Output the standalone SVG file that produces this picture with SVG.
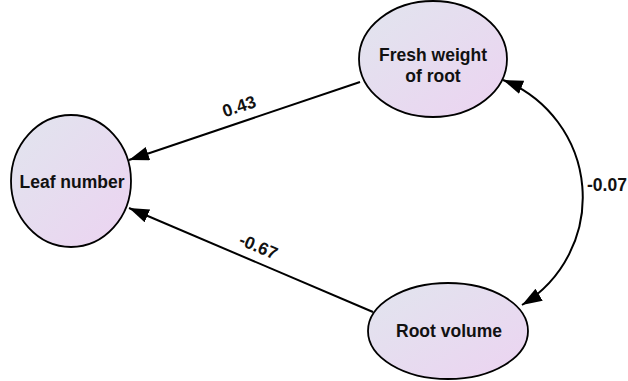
<svg xmlns="http://www.w3.org/2000/svg" width="628" height="381" viewBox="0 0 628 381">
  <defs>
    <linearGradient id="nodeFill" x1="0" y1="0" x2="1" y2="1">
      <stop offset="0" stop-color="#e1e5ee"/>
      <stop offset="1" stop-color="#ecd3f1"/>
    </linearGradient>
    <marker id="arrow" markerUnits="userSpaceOnUse" markerWidth="22" markerHeight="16" refX="20" refY="7" orient="auto-start-reverse">
      <path d="M0,0 L20,7 L0,14 z" fill="#000"/>
    </marker>
  </defs>
  <style>
    .node ellipse { fill: url(#nodeFill); stroke: #000; stroke-width: 1.8; }
    .node text { font-family: "Liberation Sans", Arial, sans-serif; font-weight: bold; font-size: 17.5px; fill: #111; text-anchor: middle; }
    .edge { fill: none; stroke: #000; stroke-width: 2; }
    .label { font-family: "Liberation Sans", Arial, sans-serif; font-weight: bold; font-size: 17.5px; fill: #111; text-anchor: middle; }
  </style>

  <g id="connectors">
    <path class="edge" d="M360,82 L129,160" marker-end="url(#arrow)"/>
    <path class="edge" d="M373,312 L129,208" marker-end="url(#arrow)"/>
    <path class="edge" d="M503,80 A126,126 0 0 1 522,305" marker-start="url(#arrow)" marker-end="url(#arrow)"/>
    <text class="label" transform="translate(241,112) rotate(-18.6)">0.43</text>
    <text class="label" transform="translate(256,252) rotate(23)">-0.67</text>
    <text class="label" x="607" y="191">-0.07</text>
  </g>

  <g id="leaf-number" class="node">
    <ellipse cx="71" cy="181" rx="60" ry="66"/>
    <text x="72" y="188">Leaf number</text>
  </g>

  <g id="fresh-weight-of-root" class="node">
    <ellipse cx="433" cy="59" rx="74" ry="58"/>
    <text x="433" y="61">Fresh weight</text>
    <text x="433" y="82">of root</text>
  </g>

  <g id="root-volume" class="node">
    <ellipse cx="448" cy="331" rx="80" ry="48"/>
    <text x="449" y="337">Root volume</text>
  </g>
</svg>
